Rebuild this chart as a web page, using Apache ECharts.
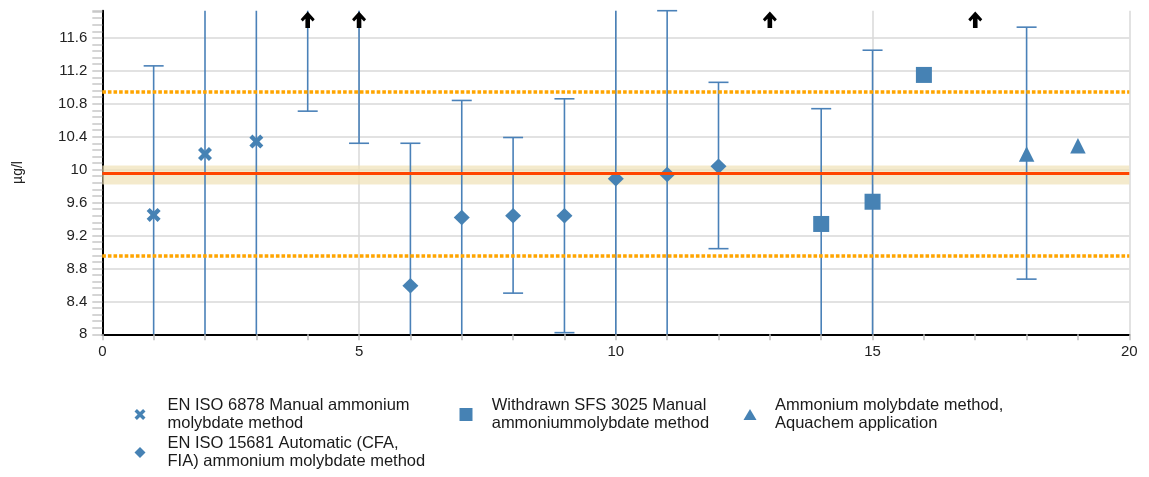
<!DOCTYPE html>
<html>
<head>
<meta charset="utf-8">
<script src="https://cdn.jsdelivr.net/npm/echarts@6/dist/echarts.min.js"></script>
<style>
  html, body { margin: 0; padding: 0; background: #fff; }
  #chart { width: 1149px; height: 477px; }
</style>
</head>
<body>
<div id="chart"></div>
<script>
// Axis ranges
const Y_MIN = 8;
const Y_MAX = 11.93;
const Y_STEP = 0.4;
const X_MIN = 0;
const X_MAX = 20;

// Results per method (laboratory number, µg/l)
const manualX = [1, 2, 3];
const manualY = [9.45, 10.19, 10.34];
const automaticX = [6, 7, 8, 9, 10, 11, 12];
const automaticY = [8.59, 9.42, 9.44, 9.44, 9.89, 9.94, 10.04];
const withdrawnX = [14, 15, 16];
const withdrawnY = [9.34, 9.61, 11.15];
const aquachemX = [18, 19];
const aquachemY = [10.19, 10.29];

// Measurement uncertainty ranges; null = the range continues past the axis
const errorX    = [1,     2,    3,    4,     5,     6,     7,     8,    9,     10,   11,    12,    14,    15,    18];
const errorLow  = [null,  null, null, 10.71, 10.32, null,  null,  8.50, 8.02,  null, null,  9.04,  null,  null,  8.67];
const errorHigh = [11.26, null, null, null,  null,  10.32, 10.84, 10.39, 10.86, null, 11.93, 11.06, 10.74, 11.45, 11.73];

// Laboratories whose result lies above the axis
const offScaleX = [4, 5, 13, 17];

// Assigned value, its uncertainty band and the acceptance limits
const assignedValue = 9.95;
const assignedBand = [9.82, 10.05];
const acceptLimits = [8.95, 10.95];

// Legend texts
const seriesNames = [
  'EN ISO 6878 Manual ammonium\nmolybdate method',
  'EN ISO 15681 Automatic (CFA,\nFIA) ammonium molybdate method',
  'Withdrawn SFS 3025 Manual\nammoniummolybdate method',
  'Ammonium molybdate method,\nAquachem application'
];

const BLUE = '#4682b4';
const BAR_BLUE = '#4a81b8';
const FONT = '"Liberation Sans", Arial, sans-serif';
const CROSS = 'path://M2.2,0 L5,2.8 L7.8,0 L10,2.2 L7.2,5 L10,7.8 L7.8,10 L5,7.2 L2.2,10 L0,7.8 L2.8,5 L0,2.2 Z';
const ARROW = 'path://M7,0 L14,7.5 L12,9.7 L9.3,7 L9.3,16 L4.7,16 L4.7,7 L2,9.7 L0,7.5 Z';

const pairs = (xs, ys) => xs.map((x, i) => [x, ys[i]]);

// y gridlines: one per labelled tick, none at the top edge
const yTickCount = Math.floor((Y_MAX - Y_MIN) / Y_STEP + 1e-9) + 2;
const yGridColors = [];
for (let i = 0; i < yTickCount; i++) yGridColors.push(i === yTickCount - 1 ? 'rgba(0,0,0,0)' : '#d9d9d9');

const chart = echarts.init(document.getElementById('chart'), null, { renderer: 'canvas' });

const legendText = { fontFamily: FONT, fontSize: 16.5, color: '#1a1a1a', lineHeight: 17.5 };
const solid = { color: BLUE, opacity: 1 };

chart.setOption({
  animation: false,
  backgroundColor: '#ffffff',
  grid: { left: 102.3, right: 19.7, top: 10.7, bottom: 142.7, containLabel: false },
  xAxis: {
    type: 'value',
    min: X_MIN,
    max: X_MAX,
    interval: 1,
    axisLine: { show: true, lineStyle: { color: '#000', width: 2 } },
    axisTick: { show: true, length: 6, lineStyle: { color: '#bfbfbf', width: 1.5 } },
    axisLabel: {
      margin: 10,
      fontFamily: FONT, fontSize: 15, color: '#222',
      formatter: v => (v % 5 === 0 ? String(v) : '')
    },
    splitLine: {
      show: true,
      lineStyle: { color: ['#d9d9d9', 'rgba(0,0,0,0)', 'rgba(0,0,0,0)', 'rgba(0,0,0,0)', 'rgba(0,0,0,0)'], width: 1.5 }
    }
  },
  yAxis: {
    type: 'value',
    min: Y_MIN,
    max: Y_MAX,
    interval: Y_STEP,
    name: 'µg/l',
    nameLocation: 'middle',
    nameRotate: 90,
    nameGap: 77,
    nameTextStyle: { fontFamily: FONT, fontSize: 14, color: '#222' },
    axisLine: { show: true, lineStyle: { color: '#000', width: 2 } },
    axisTick: { show: true, length: 10, lineStyle: { color: '#c8c8c8', width: 1.5 } },
    minorTick: { show: true, splitNumber: 5, length: 10, lineStyle: { color: '#c8c8c8', width: 1.5 } },
    axisLabel: {
      margin: 15,
      showMaxLabel: false,
      fontFamily: FONT, fontSize: 15, color: '#222'
    },
    splitLine: { show: true, lineStyle: { color: yGridColors, width: 1.5 } }
  },
  legend: [
    {
      data: [
        { name: seriesNames[0], icon: CROSS },
        { name: seriesNames[1], icon: 'diamond' }
      ],
      orient: 'vertical', left: 134.5, top: 397, padding: 0, itemGap: 3,
      itemWidth: 11, itemHeight: 11, selectedMode: false,
      itemStyle: { opacity: 1 },
      textStyle: Object.assign({ padding: [0, 0, 0, 17] }, legendText)
    },
    {
      data: [{ name: seriesNames[2], icon: 'rect' }],
      orient: 'vertical', left: 459.5, top: 397, padding: 0,
      itemWidth: 13, itemHeight: 13, selectedMode: false,
      itemStyle: { opacity: 1 },
      textStyle: Object.assign({ padding: [0, 0, 0, 14.2] }, legendText)
    },
    {
      data: [{ name: seriesNames[3], icon: 'triangle' }],
      orient: 'vertical', left: 743.5, top: 397, padding: 0,
      itemWidth: 13, itemHeight: 11, selectedMode: false,
      itemStyle: { opacity: 1 },
      textStyle: Object.assign({ padding: [0, 0, 0, 13.5] }, legendText)
    }
  ],
  series: [
    // uncertainty band of the assigned value
    {
      type: 'line', name: 'band', data: [], z: 1, silent: true,
      markArea: {
        silent: true,
        itemStyle: { color: 'rgba(240,226,184,0.72)' },
        data: [[{ yAxis: assignedBand[0] }, { yAxis: assignedBand[1] }]]
      }
    },
    // error bars
    {
      type: 'custom', name: 'uncertainty', z: 2, silent: true,
      data: errorX.map((x, i) => [x, errorLow[i] == null ? Y_MIN : errorLow[i], errorHigh[i] == null ? Y_MAX : errorHigh[i]]),
      encode: { x: 0, y: [1, 2] },
      renderItem: (params, api) => {
        const i = params.dataIndex;
        const x = errorX[i];
        const lo = errorLow[i];
        const hi = errorHigh[i];
        const pb = api.coord([x, lo == null ? Y_MIN : lo]);
        const pt = api.coord([x, hi == null ? Y_MAX : hi]);
        const style = { stroke: BAR_BLUE, lineWidth: 1.6 };
        const half = 10;
        const children = [{ type: 'line', shape: { x1: pt[0], y1: pt[1], x2: pb[0], y2: pb[1] }, style }];
        if (lo != null) children.push({ type: 'line', shape: { x1: pb[0] - half, y1: pb[1], x2: pb[0] + half, y2: pb[1] }, style });
        if (hi != null) children.push({ type: 'line', shape: { x1: pt[0] - half, y1: pt[1], x2: pt[0] + half, y2: pt[1] }, style });
        return { type: 'group', children };
      }
    },
    // assigned value and acceptance limits
    {
      type: 'line', name: 'limits', data: [], z: 3, silent: true,
      markLine: {
        silent: true,
        symbol: ['none', 'none'],
        label: { show: false },
        data: [
          { yAxis: assignedValue, lineStyle: { color: '#ff4500', width: 3, type: 'solid', opacity: 1 } },
          { yAxis: acceptLimits[0], lineStyle: { color: '#ffa500', width: 3.5, type: [3.6, 2], opacity: 1 } },
          { yAxis: acceptLimits[1], lineStyle: { color: '#ffa500', width: 3.5, type: [3.6, 2], opacity: 1 } }
        ]
      }
    },
    {
      type: 'scatter', name: seriesNames[0], z: 4, silent: true,
      data: pairs(manualX, manualY),
      symbol: CROSS, symbolSize: 14,
      itemStyle: solid
    },
    {
      type: 'scatter', name: seriesNames[1], z: 4, silent: true,
      data: pairs(automaticX, automaticY),
      symbol: 'diamond', symbolSize: [16, 15.5],
      itemStyle: solid
    },
    {
      type: 'scatter', name: seriesNames[2], z: 4, silent: true,
      data: pairs(withdrawnX, withdrawnY),
      symbol: 'rect', symbolSize: 16,
      itemStyle: solid
    },
    {
      type: 'scatter', name: seriesNames[3], z: 4, silent: true,
      data: pairs(aquachemX, aquachemY),
      symbol: 'triangle', symbolSize: [15.5, 15.5],
      itemStyle: solid
    },
    // markers for results above the axis
    {
      type: 'scatter', name: 'above', z: 5, clip: false, silent: true,
      data: offScaleX.map(x => [x, Y_MAX]),
      symbol: ARROW, symbolSize: [14, 16.5], symbolOffset: [0, 9],
      itemStyle: { color: '#000', opacity: 1 }
    }
  ]
});
</script>
</body>
</html>
